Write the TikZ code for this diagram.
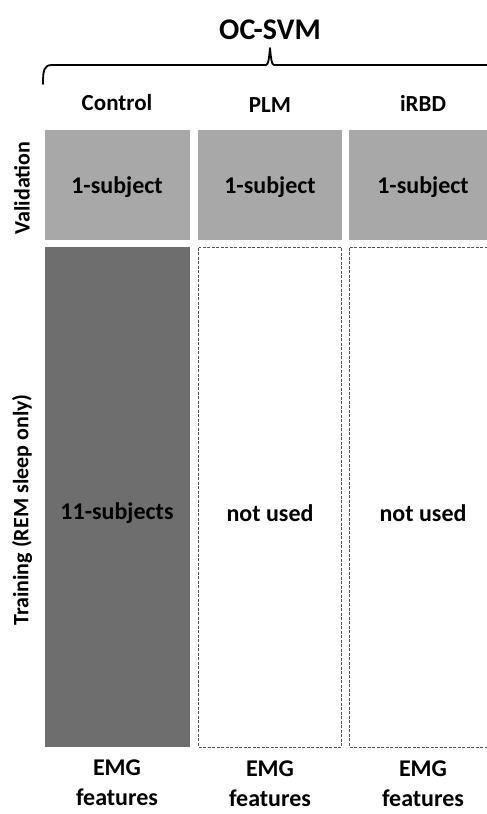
\documentclass[tikz,border=0pt]{standalone}
\usepackage{fontspec}
\setmainfont{Carlito}
\definecolor{valgray}{HTML}{A8A8A8}
\definecolor{darkgray2}{HTML}{6E6E6E}
\definecolor{dashgray}{HTML}{505050}
\begin{document}
\begin{tikzpicture}[x=1pt,y=-1pt,
  lbl/.style={font=\bfseries\fontsize{23}{26}\selectfont, text=black, inner sep=0pt},
  side/.style={font=\bfseries\fontsize{22}{25}\selectfont, text=black, inner sep=0pt, rotate=90},
  cell/.style={font=\bfseries\fontsize{24}{27}\selectfont, text=black, inner sep=0pt},
  foot/.style={font=\bfseries\fontsize{24}{30}\selectfont, text=black, inner sep=0pt, align=center},
  valbox/.style={fill=valgray, draw=none},
  darkbox/.style={fill=darkgray2, draw=none},
  dashbox/.style={fill=white, draw=dashgray, dash pattern=on 3pt off 1.5pt, line width=1pt},
  brace/.style={draw=black, line width=1.8pt, line cap=round, line join=round}]
\useasboundingbox (0,0) rectangle (487,814);
% title
\node[lbl, font=\bfseries\fontsize{30}{33}\selectfont] (title) at (270,30) {OC-SVM};
% brace
\coordinate (bl) at (43,84);
\coordinate (bt) at (270,48);
\coordinate (br) at (492,65);
\draw[brace] (bl) .. controls (43,70) and (44,65) .. (52,65) -- (266,65) .. controls (268.5,65) and (269,58) .. (bt)
  (bt) .. controls (271,58) and (271.5,65) .. (274,65) -- (br);
% column headers
\node[lbl] (hc) at (117,103) {Control};
\node[lbl] (hp) at (270,105) {PLM};
\node[lbl] (hi) at (423,103) {iRBD};
% row labels
\node[side] (rv) at (22,188) {Validation};
\node[side] (rt) at (22,510) {Training (REM sleep only)};
% validation boxes
\path[valbox] (45,130) rectangle (190,240);
\path[valbox] (198,130) rectangle (342,240);
\path[valbox] (349,130) rectangle (490,240);
\node[cell] (v1) at (117,187) {1-subject};
\node[cell] (v2) at (270,187) {1-subject};
\node[cell] (v3) at (423,187) {1-subject};
% training boxes
\path[darkbox] (45,247) rectangle (190,747);
\path[dashbox] (198.5,247.5) rectangle (341.5,747);
\path[dashbox] (349.5,247.5) rectangle (495,747);
\node[cell] (t1) at (117,513) {11-subjects};
\node[cell] (t2) at (270,513) {not used};
\node[cell] (t3) at (423,513) {not used};
% bottom labels
\node[foot] (b1) at (117,783) {EMG\\features};
\node[foot] (b2) at (270,784) {EMG\\features};
\node[foot] (b3) at (423,784) {EMG\\features};
\end{tikzpicture}
\end{document}
